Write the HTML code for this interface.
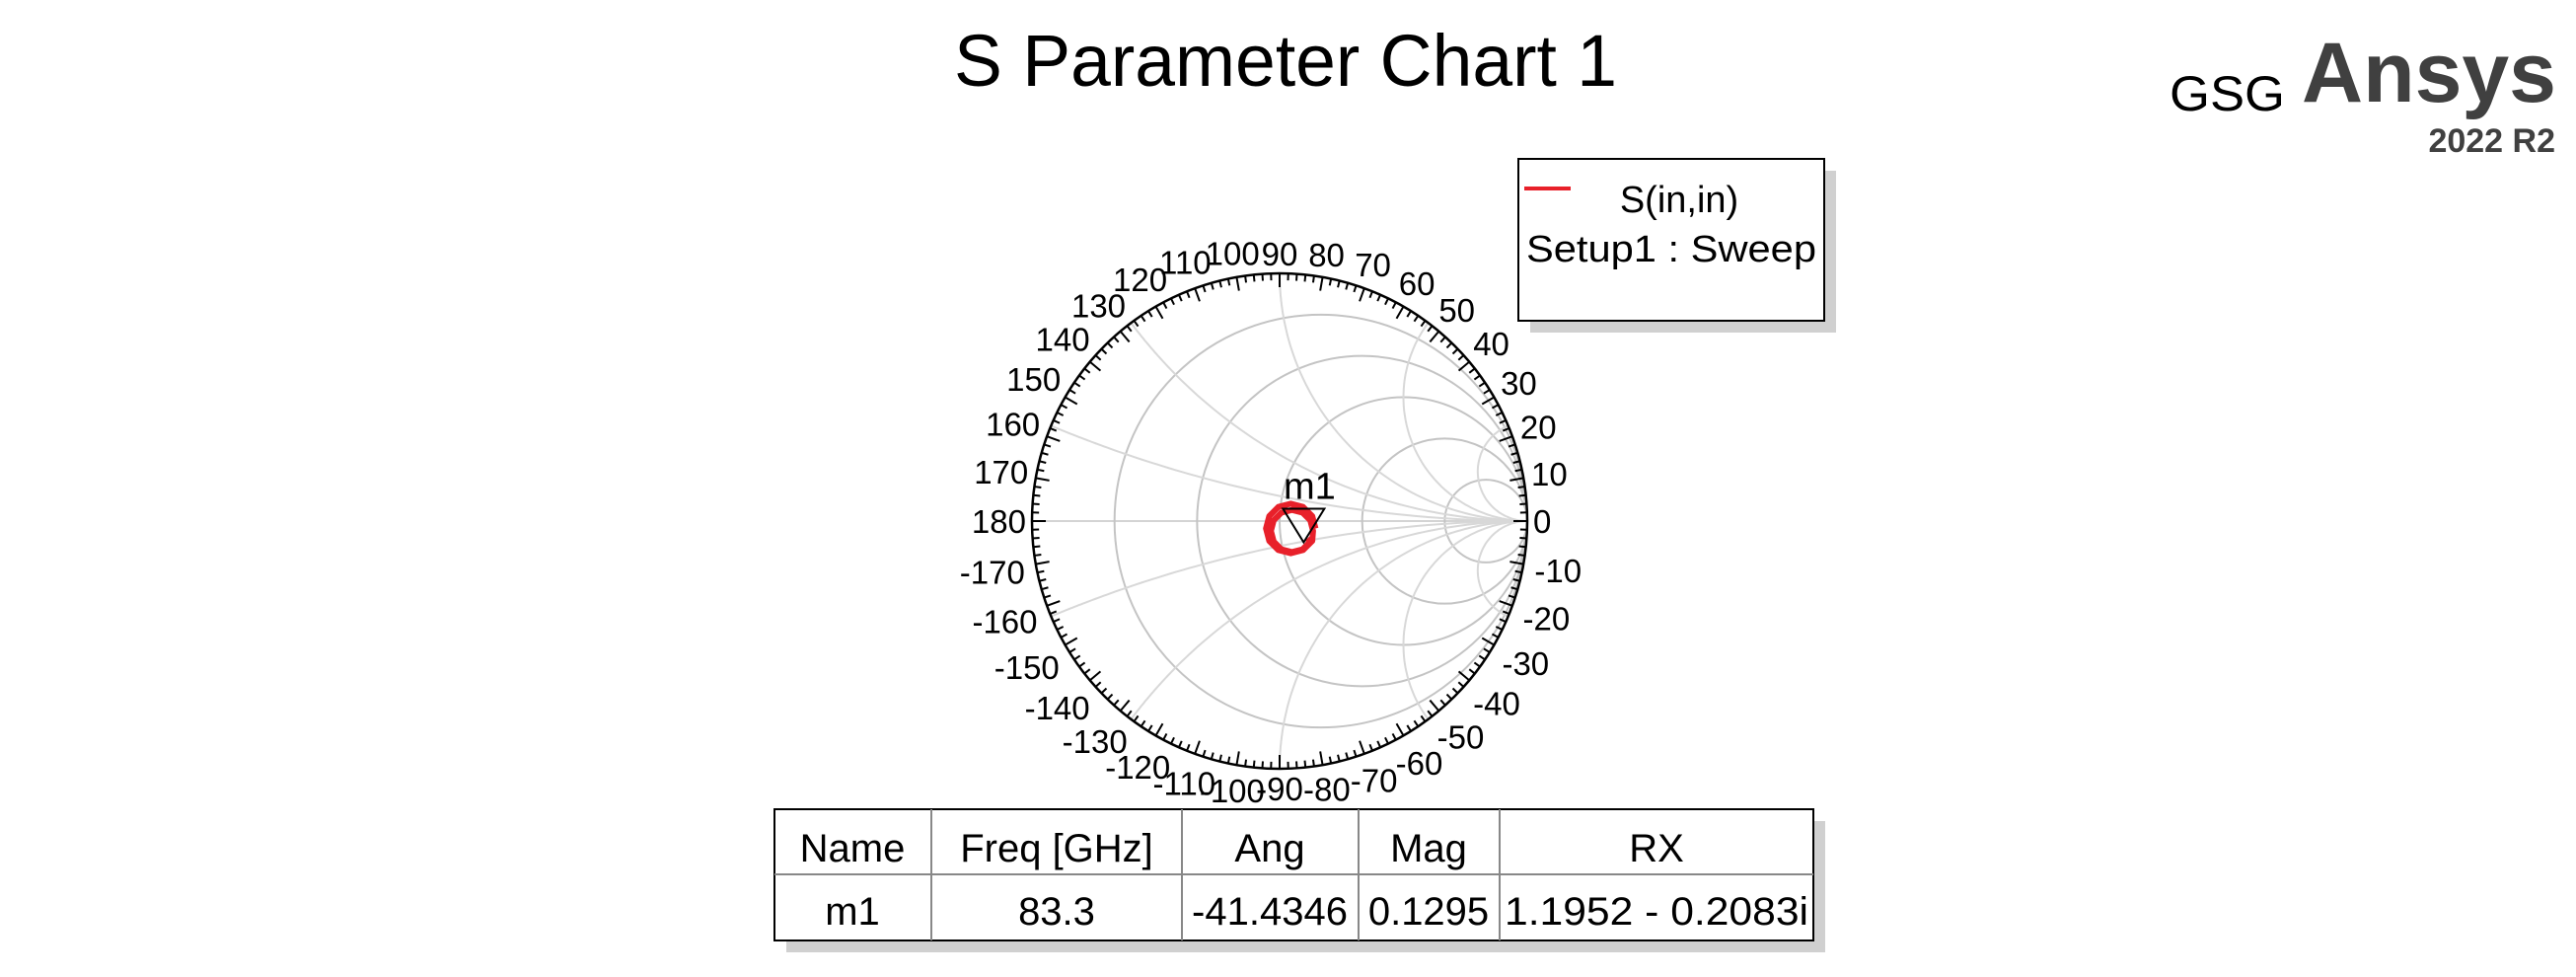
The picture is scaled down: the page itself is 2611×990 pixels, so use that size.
<!DOCTYPE html>
<html><head><meta charset="utf-8"><style>
html,body{margin:0;padding:0;background:#fff;}
svg{display:block;font-family:"Liberation Sans",sans-serif;}
</style></head><body>
<svg id="chart" width="2611" height="990" viewBox="0 0 2611 990" xmlns="http://www.w3.org/2000/svg">
<text x="1303" y="87" font-size="74" text-anchor="middle" textLength="672" lengthAdjust="spacingAndGlyphs">S Parameter Chart 1</text>
<text x="2199" y="112" font-size="50" textLength="117" lengthAdjust="spacingAndGlyphs">GSG</text>
<text x="2333" y="103" font-size="86" font-weight="bold" fill="#404040" textLength="258" lengthAdjust="spacingAndGlyphs">Ansys</text>
<text x="2590" y="154" font-size="34" font-weight="bold" fill="#404040" text-anchor="end">2022 R2</text>

<g>
<rect x="1551" y="173" width="310" height="164" fill="#d0d0d0"/>
<rect x="1539" y="161" width="310" height="164" fill="#fff" stroke="#000" stroke-width="2"/>
<line x1="1545" y1="191" x2="1592" y2="191" stroke="#e8202a" stroke-width="4"/>
<text x="1702" y="215" font-size="38" text-anchor="middle">S(in,in)</text>
<text x="1694" y="265" font-size="38" text-anchor="middle" textLength="294" lengthAdjust="spacingAndGlyphs">Setup1 : Sweep</text>
</g>

<g id="smith"></g>

<g>
<rect x="797" y="832" width="1053" height="133" fill="#d0d0d0"/>
<rect x="785" y="820" width="1053" height="133" fill="#fff" stroke="#000" stroke-width="2"/>
<line x1="785" y1="886" x2="1838" y2="886" stroke="#888" stroke-width="2"/>
<line x1="944" y1="820" x2="944" y2="953" stroke="#888" stroke-width="2"/>
<line x1="1198" y1="820" x2="1198" y2="953" stroke="#888" stroke-width="2"/>
<line x1="1377" y1="820" x2="1377" y2="953" stroke="#888" stroke-width="2"/>
<line x1="1520" y1="820" x2="1520" y2="953" stroke="#888" stroke-width="2"/>
<g font-size="40" text-anchor="middle">
<text x="864" y="873">Name</text><text x="1071" y="873">Freq [GHz]</text><text x="1287" y="873">Ang</text><text x="1448" y="873">Mag</text><text x="1679" y="873">RX</text>
<text x="864" y="937">m1</text><text x="1071" y="937">83.3</text><text x="1287" y="937">-41.4346</text><text x="1448" y="937">0.1295</text><text x="1679" y="937" textLength="308" lengthAdjust="spacingAndGlyphs">1.1952 - 0.2083i</text>
</g>
</g>
</svg>
<script>
const resistances=[0.2,0.5,1,2,5];
const reactances=[0.2,0.5,1,2,5];
const angleLabels=[0,10,20,30,40,50,60,70,80,90,100,110,120,130,140,150,160,170,180,-170,-160,-150,-140,-130,-120,-110,-100,-90,-80,-70,-60,-50,-40,-30,-20,-10];
const traceRe=[0.145,0.132,0.095,0.045,-0.005,-0.042,-0.055,-0.042,-0.005,0.045,0.095,0.132,0.135,0.124,0.093,0.05,0.007,-0.024,-0.035,-0.024,0.007,0.05,0.093,0.124,0.112];
const traceIm=[-0.03,0.02,0.057,0.07,0.057,0.02,-0.03,-0.08,-0.117,-0.13,-0.117,-0.08,-0.04,0.003,0.034,0.045,0.034,0.003,-0.04,-0.083,-0.114,-0.125,-0.114,-0.083,-0.07];
const markerMag=[0.1295];
const markerAng=[-41.4346];
const markerNames=['m1'];

const NS='http://www.w3.org/2000/svg';
const g=document.getElementById('smith');
const CX=1297,CY=528,R=251;
const px=re=>CX+re*R, py=im=>CY-im*R;
function mk(tag,attrs,parent){const e=document.createElementNS(NS,tag);for(const k in attrs)e.setAttribute(k,attrs[k]);(parent||g).appendChild(e);return e;}
function gamma(r,x){const dr=r+1,den=dr*dr+x*x;return [((r*r+x*x-1))/den,(2*x)/den];}

let ax=mk('line',{x1:px(-1),y1:CY,x2:px(1),y2:CY,stroke:'#d4d4d4','stroke-width':2});


resistances.forEach(r=>{
  const c=mk('circle',{cx:px(r/(r+1)),cy:CY,r:R/(r+1),fill:'none',stroke:'#c4c4c4','stroke-width':2});
  
  
});
const rs=[];for(let i=0;i<=200;i++)rs.push(Math.pow(10,-3+i*0.03));
reactances.forEach(x=>{[x,-x].forEach(xx=>{
  let d='';const pts=[[0,xx]].concat(rs.map(r=>[r,xx]));
  pts.forEach((p,i)=>{const G=gamma(p[0],p[1]);d+=(i?'L':'M')+px(G[0]).toFixed(1)+','+py(G[1]).toFixed(1);});
  const a=mk('path',{d:d,fill:'none',stroke:'#d8d8d8','stroke-width':2});
  
  
});});
const rim=mk('circle',{cx:CX,cy:CY,r:R,fill:'none',stroke:'#000','stroke-width':2.5});


for(let a=0;a<360;a+=2){
  const t=a*Math.PI/180,len=(a%10===0)?14:7;
  mk('line',{x1:CX+R*Math.cos(t),y1:CY-R*Math.sin(t),x2:CX+(R-len)*Math.cos(t),y2:CY-(R-len)*Math.sin(t),stroke:'#000','stroke-width':2});
}
angleLabels.forEach(a=>{
  const t=a*Math.PI/180,s=String(a),hw=s.length*9.2;
  const c=Math.cos(t),sn=Math.sin(t);
  const rr=R+6+hw*Math.abs(c)+14*Math.abs(sn);
  const tx=mk('text',{x:CX+rr*c,y:CY-rr*sn+12,'font-size':33,'text-anchor':'middle'});
  tx.textContent=s;
  
  
});
let d='';traceRe.forEach((v,i)=>{d+=(i?'L':'M')+px(v).toFixed(1)+','+py(traceIm[i]).toFixed(1);});
const tr=mk('path',{d:d,fill:'none',stroke:'#e8202a','stroke-width':6,'stroke-linejoin':'round'});


markerMag.forEach((m,i)=>{
  const t=markerAng[i]*Math.PI/180,x=px(m*Math.cos(t)),y=py(m*Math.sin(t));
  const tri=mk('path',{d:`M${x},${y}L${x-21},${y-34}L${x+21},${y-34}Z`,fill:'none',stroke:'#000','stroke-width':2});
  
  
  const lb=mk('text',{x:x+6,y:y-44,'font-size':38,'text-anchor':'middle'});
  lb.textContent=markerNames[i];
  
  
});
</script>
</body></html>
